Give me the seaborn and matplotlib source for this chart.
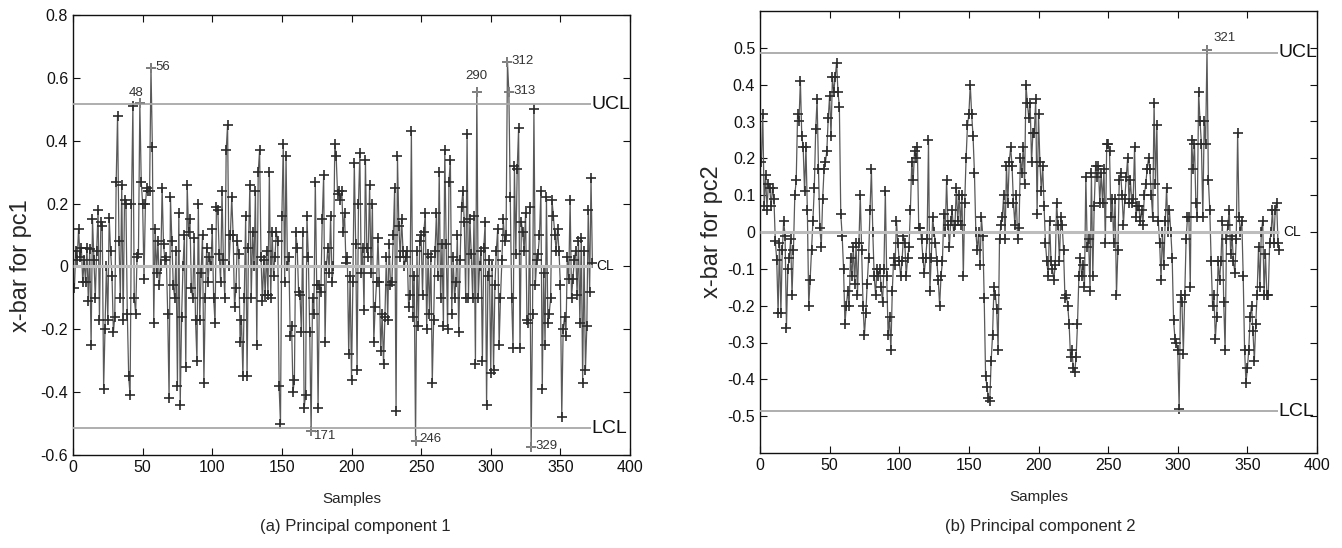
import numpy as np
import pandas as pd
import matplotlib
matplotlib.use("Agg")
import matplotlib.pyplot as plt
import seaborn as sns

# x-bar of principal component 1, samples 1..373
pc1 = [
    -0.07, 0.05, 0.02, 0.12, 0.03, 0.06, -0.05, 0.02, -0.05, 0.06,
    -0.11, 0.055, -0.25, 0.15, 0.02, -0.10, 0.05, 0.18, -0.17, 0.14,
    0.13, -0.39, -0.20, 0.00, -0.17, 0.155, 0.05, -0.03, -0.21, -0.16,
    0.27, 0.48, 0.08, -0.10, 0.26, -0.17, 0.21, 0.20, -0.15, -0.35,
    -0.41, 0.20, 0.51, -0.10, -0.15, 0.03, 0.04, 0.52, 0.27, 0.20,
    -0.04, 0.20, 0.25, 0.24, 0.24, 0.63, 0.38, -0.18, 0.12, -0.02,
    0.08, -0.06, 0.00, 0.25, 0.07, 0.02, 0.03, -0.15, -0.42, 0.22,
    0.08, -0.06, -0.10, 0.05, -0.38, 0.17, -0.44, -0.16, 0.00, 0.10,
    -0.32, 0.26, 0.11, 0.15, -0.07, -0.10, 0.09, -0.17, -0.30, 0.20,
    -0.17, -0.02, 0.10, -0.37, -0.10, 0.06, -0.05, 0.03, 0.00, 0.12,
    -0.10, -0.18, 0.19, 0.18, 0.04, -0.05, 0.24, 0.02, -0.10, 0.37,
    0.45, 0.00, 0.10, 0.22, 0.10, -0.13, -0.07, 0.08, 0.04, -0.24,
    -0.17, -0.35, -0.10, 0.16, -0.35, 0.06, 0.26, -0.10, 0.11, 0.00,
    0.24, -0.25, 0.30, 0.37, 0.03, -0.11, 0.02, -0.09, 0.05, -0.09,
    0.30, -0.10, 0.11, -0.03, 0.03, 0.11, 0.08, -0.38, -0.50, 0.16,
    0.39, -0.05, 0.35, 0.00, 0.03, -0.22, -0.19, -0.40, -0.36, 0.11,
    0.06, -0.08, -0.09, -0.21, 0.11, -0.45, -0.41, 0.16, 0.03, -0.21,
    -0.525, -0.10, -0.15, 0.27, -0.06, -0.45, -0.06, -0.08, 0.15, 0.29,
    -0.24, 0.00, 0.06, -0.02, 0.16, -0.05, 0.00, 0.39, 0.35, 0.23,
    0.24, 0.21, 0.24, 0.11, 0.17, 0.01, 0.03, -0.28, -0.03, -0.36,
    -0.05, 0.33, 0.07, -0.33, 0.20, 0.36, -0.02, 0.06, -0.14, 0.34,
    0.06, 0.03, 0.26, -0.02, 0.20, -0.24, -0.13, -0.05, 0.09, -0.05,
    -0.27, -0.15, -0.31, -0.16, 0.03, -0.17, 0.07, -0.06, -0.05, 0.10,
    0.25, -0.46, 0.35, 0.13, 0.03, 0.15, 0.05, 0.00, 0.03, 0.05,
    -0.13, -0.09, 0.43, -0.16, -0.03, -0.555, 0.05, -0.19, 0.08, 0.10,
    -0.09, 0.11, 0.17, -0.20, 0.04, -0.15, 0.03, -0.37, -0.17, 0.05,
    0.17, -0.03, 0.30, -0.10, 0.07, -0.19, 0.37, 0.07, -0.20, 0.27,
    0.34, -0.15, 0.03, -0.10, -0.05, 0.10, -0.21, 0.02, 0.19, 0.24,
    0.14, -0.10, 0.42, -0.10, 0.15, 0.04, -0.10, 0.16, -0.31, 0.555,
    -0.10, 0.00, 0.05, -0.30, 0.06, 0.14, -0.44, -0.03, 0.02, -0.34,
    0.00, -0.33, -0.06, 0.05, 0.12, -0.25, -0.10, 0.02, 0.15, 0.08,
    0.10, 0.65, 0.555, 0.22, -0.10, -0.26, 0.32, 0.04, 0.31, 0.44,
    -0.26, 0.14, 0.11, 0.05, 0.17, -0.17, -0.18, 0.19, -0.575, -0.15,
    0.50, -0.06, 0.02, 0.04, 0.10, 0.24, -0.39, -0.02, -0.25, 0.22,
    -0.18, -0.15, -0.10, 0.21, 0.16, 0.10, 0.05, 0.12, 0.05, -0.06,
    -0.48, -0.20, -0.16, -0.22, 0.03, -0.04, 0.21, -0.10, -0.04, 0.02,
    0.05, -0.09, 0.08, -0.18, 0.09, -0.37, 0.05, -0.33, -0.19, 0.18,
    -0.08, 0.28, 0.01,
]

# x-bar of principal component 2, samples 1..373
pc2 = [
    0.19, 0.32, 0.07, 0.155, 0.06, 0.13, 0.12, 0.07, 0.12, 0.09,
    -0.025, -0.075, -0.22, -0.03, -0.22, -0.05, 0.03, -0.01, -0.26, -0.10,
    -0.07, -0.02, -0.17, -0.05, 0.10, 0.14, 0.32, 0.30, 0.41, 0.26,
    0.23, 0.11, 0.23, 0.06, -0.20, -0.13, -0.05, 0.03, 0.12, 0.28,
    0.36, 0.17, 0.01, -0.04, 0.09, 0.17, 0.19, 0.22, 0.31, 0.37,
    0.26, 0.42, 0.38, 0.42, 0.46, 0.38, 0.34, 0.05, -0.01, -0.10,
    -0.25, -0.20, -0.16, -0.20, -0.07, -0.12, -0.04, -0.14, -0.03, -0.17,
    -0.03, 0.10, -0.05, -0.20, -0.28, -0.22, -0.14, -0.07, 0.06, 0.17,
    0.00, -0.12, -0.17, -0.10, -0.12, -0.10, -0.15, -0.19, -0.10, 0.11,
    -0.12, -0.28, -0.23, -0.32, -0.16, -0.07, -0.09, 0.03, -0.03, -0.08,
    -0.12, -0.08, -0.01, -0.03, -0.12, -0.07, -0.04, 0.06, 0.19, 0.14,
    0.22, 0.20, 0.23, 0.01, 0.01, -0.02, -0.07, -0.11, -0.07, -0.02,
    0.25, -0.16, -0.07, 0.04, 0.00, -0.03, -0.08, -0.13, -0.20, -0.12,
    -0.08, 0.05, 0.00, 0.14, 0.02, -0.04, 0.03, 0.06, 0.00, 0.02,
    0.12, 0.03, 0.10, 0.02, 0.10, -0.12, 0.08, 0.20, 0.29, 0.32,
    0.40, 0.32, 0.26, 0.16, 0.00, -0.05, 0.00, -0.09, 0.04, -0.01,
    -0.18, -0.39, -0.42, -0.45, -0.46, -0.35, -0.28, -0.15, -0.17, -0.21,
    -0.32, -0.02, 0.02, 0.04, 0.10, -0.02, 0.18, 0.08, 0.19, 0.23,
    0.18, 0.08, 0.02, 0.10, -0.02, 0.01, 0.20, 0.16, 0.23, 0.13,
    0.40, 0.35, 0.31, 0.35, 0.19, 0.27, 0.27, 0.36, 0.05, 0.32,
    0.19, 0.11, 0.18, 0.07, -0.03, -0.08, -0.12, 0.03, -0.08, -0.10,
    -0.13, -0.09, 0.08, 0.02, -0.08, 0.04, 0.02, -0.05, -0.18, -0.17,
    -0.20, -0.25, -0.34, -0.32, -0.37, -0.38, -0.34, -0.25, -0.12, -0.07,
    -0.12, -0.09, -0.15, 0.15, -0.04, -0.02, -0.16, 0.16, -0.12, 0.07,
    0.18, 0.15, 0.18, 0.08, 0.16, 0.08, 0.17, -0.03, 0.24, 0.24,
    0.22, 0.04, 0.09, -0.03, 0.09, -0.17, -0.05, 0.14, 0.16, 0.10,
    0.02, 0.09, 0.15, 0.20, 0.08, 0.14, 0.08, 0.09, 0.23, 0.04,
    0.07, 0.07, 0.03, 0.06, 0.02, 0.10, 0.13, 0.17, 0.20, 0.17,
    0.10, 0.04, 0.35, 0.13, 0.29, 0.03, -0.03, -0.13, 0.00, -0.09,
    0.03, 0.12, 0.00, 0.06, 0.00, -0.07, -0.24, -0.29, -0.30, -0.32,
    -0.48, -0.17, -0.19, -0.33, -0.17, -0.02, 0.04, 0.04, -0.15, 0.25,
    0.17, 0.24, 0.08, 0.04, 0.38, 0.30, 0.24, 0.04, 0.30, 0.24,
    0.495, 0.14, 0.06, -0.08, -0.20, -0.17, -0.29, -0.23, -0.08, -0.13,
    -0.08, 0.03, -0.19, -0.32, -0.02, 0.02, 0.06, -0.06, -0.01, -0.08,
    -0.11, -0.02, 0.27, 0.04, 0.00, 0.03, -0.12, -0.32, -0.41, -0.37,
    -0.32, -0.23, -0.20, -0.27, -0.35, -0.25, -0.17, -0.04, -0.15, 0.00,
    0.03, -0.17, -0.06, -0.17, -0.17, -0.03, 0.00, 0.06, -0.03, 0.06,
    0.08, -0.03, -0.05,
]

# control limits
pc1_ucl, pc1_lcl = 0.516, -0.515
pc2_ucl, pc2_lcl = 0.487, -0.487

# flagged samples
pc1_flags = [48, 56, 171, 246, 290, 312, 313, 329]
pc2_flags = [321]

sns.set_style("ticks")
plt.rcParams["font.family"] = ["Liberation Sans", "DejaVu Sans"]
plt.rcParams["axes.unicode_minus"] = False

fig = plt.figure(figsize=(13.42, 5.48), dpi=100)
ax1 = fig.add_axes([73 / 1342, 93 / 548, 557 / 1342, 440 / 548])
ax2 = fig.add_axes([760 / 1342, 95 / 548, 557 / 1342, 442 / 548])


def tick_fmt(v, p):
    if abs(v) < 1e-9:
        return "0"
    return f"{v:g}"


def control_chart(ax, vals, ucl, lcl, flags, offsets, ylab):
    df = pd.DataFrame({"Samples": np.arange(1, len(vals) + 1), "xbar": vals})
    end = len(vals)
    ax.hlines([ucl, lcl], 0, end - 1, colors="#a8a8a8", linewidth=1.3, zorder=3)
    ax.hlines([0], 0, end, colors="#bdbdbd", linewidth=2.2, zorder=3)
    sns.lineplot(data=df, x="Samples", y="xbar", ax=ax, color="#595959",
                 linewidth=0.9, marker="+", markersize=7,
                 markeredgecolor="#2b2b2b", markeredgewidth=1.2,
                 estimator=None, errorbar=None, zorder=2)
    fl = df[df["Samples"].isin(flags)]
    ax.plot(fl["Samples"], fl["xbar"], linestyle="none", marker="+",
            markersize=7, markeredgewidth=1.2, color="#8a8a8a", zorder=4)
    for s, v in zip(fl["Samples"], fl["xbar"]):
        dx, dy, ha, va = offsets[s]
        ax.annotate(str(s), (s, v), xytext=(dx, dy), textcoords="offset points",
                    ha=ha, va=va, fontsize=9.5, color="#333333")
    ax.text(end - 1, ucl, "UCL", fontsize=14, va="center", ha="left", color="#111111")
    ax.text(end + 3, 0, "CL", fontsize=10, va="center", ha="left", color="#111111")
    ax.text(end - 1, lcl, "LCL", fontsize=14, va="center", ha="left", color="#111111")
    ax.set_xlim(0, 400)
    ax.set_xticks(range(0, 401, 50))
    ax.set_xlabel("Samples", fontsize=11, labelpad=12)
    ax.set_ylabel(ylab, fontsize=17)
    ax.tick_params(direction="in", top=True, right=True, length=5,
                   width=0.8, labelsize=11.5, colors="#111111")
    for sp in ax.spines.values():
        sp.set_color("#111111")
        sp.set_linewidth(1.0)
    ax.yaxis.set_major_formatter(matplotlib.ticker.FuncFormatter(tick_fmt))


pc1_offsets = {48: (-3, 3, "center", "bottom"), 56: (3, 1, "left", "center"),
               171: (2, -3, "left", "center"), 246: (3, 1, "left", "center"),
               290: (0, 7, "center", "bottom"), 312: (3, 1, "left", "center"),
               313: (3, 1, "left", "center"), 329: (3, 1, "left", "center")}
pc2_offsets = {321: (5, 4, "left", "bottom")}

control_chart(ax1, pc1, pc1_ucl, pc1_lcl, pc1_flags, pc1_offsets, "x-bar for pc1")
ax1.set_ylim(-0.6, 0.8)
ax1.set_yticks(np.round(np.arange(-0.6, 0.81, 0.2), 1))
ax1.yaxis.set_label_coords(-0.074, 0.43)

control_chart(ax2, pc2, pc2_ucl, pc2_lcl, pc2_flags, pc2_offsets, "x-bar for pc2")
ax2.set_ylim(-0.6, 0.6)
ax2.set_yticks(np.round(np.arange(-0.5, 0.51, 0.1), 1))
ax2.yaxis.set_label_coords(-0.066, 0.5)

fig.text(355 / 1342, 1 - 527 / 548, "(a) Principal component 1", fontsize=12,
         ha="center", va="center")
fig.text(1040 / 1342, 1 - 527 / 548, "(b) Principal component 2", fontsize=12,
         ha="center", va="center")

fig.savefig("out.png", dpi=100, facecolor="white")
